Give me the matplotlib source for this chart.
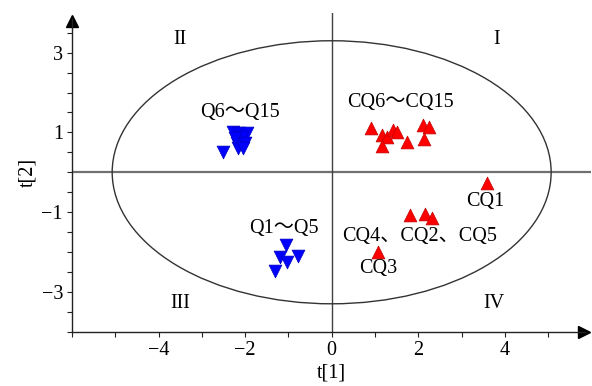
import numpy as np
import matplotlib.pyplot as plt
from matplotlib.patches import Ellipse

# PCA score plot, t[1] vs t[2]
cq_group_x = [0.92, 1.17, 1.27, 1.41, 1.50, 1.17, 1.75, 2.10, 2.25, 2.14]
cq_group_y = [1.10, 0.94, 0.88, 1.06, 1.02, 0.66, 0.77, 1.19, 1.14, 0.84]
cq_single_x = [3.58, 1.81, 2.15, 2.31, 1.08]   # CQ1, CQ4, CQ2, CQ5, CQ3
cq_single_y = [-0.26, -1.07, -1.05, -1.15, -1.99]
q_group_x = [-2.27, -2.13, -1.96, -2.08, -2.18, -2.00, -2.16, -2.50, -2.04, -2.23]
q_group_y = [1.02, 0.99, 0.99, 0.89, 0.73, 0.73, 0.60, 0.52, 0.60, 0.85]
q_low_x = [-1.06, -1.19, -1.03, -0.77, -1.31]
q_low_y = [-1.83, -2.13, -2.24, -2.10, -2.47]

ellipse_w = 5.07
ellipse_h = 3.30

fam = ['Liberation Serif', 'Noto Sans CJK SC']
plt.rcParams['font.family'] = fam

fig = plt.figure(figsize=(5.92, 3.86), dpi=100)
ax = fig.add_axes([0.1215, 0.1407, 0.8775, 0.826])
ax.set_xlim(-6, 6)
ax.set_ylim(-4, 4)

ax.axhline(0, color='#707070', lw=1.6, zorder=1)
ax.axvline(0, color='#404040', lw=1.0, zorder=1)
ax.add_patch(Ellipse((0, 0), 2 * ellipse_w, 2 * ellipse_h, fill=False,
                     edgecolor='#333333', lw=1.0, zorder=1))

ax.scatter(cq_group_x, cq_group_y, marker='^', s=85, color='#ff0000',
           edgecolor='#c00000', linewidth=0.5, zorder=3)
ax.scatter(cq_single_x, cq_single_y, marker='^', s=85, color='#ff0000',
           edgecolor='#c00000', linewidth=0.5, zorder=3)
ax.scatter(q_group_x, q_group_y, marker='v', s=85, color='#0000ff',
           edgecolor='#0000c0', linewidth=0.5, zorder=3)
ax.scatter(q_low_x, q_low_y, marker='v', s=85, color='#0000ff',
           edgecolor='#0000c0', linewidth=0.5, zorder=3)

fs = 14.5
txt = dict(fontsize=fs, ha='center', va='center', family=fam)
ax.text(-2.11, 1.49, 'Q6～Q15', **txt)
ax.text(1.58, 1.74, 'CQ6～CQ15', **txt)
ax.text(-1.10, -1.40, 'Q1～Q5', **txt)
ax.text(3.54, -0.74, 'CQ1', **txt)
ax.text(2.04, -1.62, 'CQ4、CQ2、CQ5', **txt)
ax.text(1.08, -2.42, 'CQ3', **txt)
ax.text(-3.5, 3.32, 'II', **txt)
ax.text(3.8, 3.32, 'I', **txt)
ax.text(-3.5, -3.29, 'III', **txt)
ax.text(3.75, -3.29, 'IV', **txt)

# axes: left and bottom only, with arrow heads
for side in ['top', 'right']:
    ax.spines[side].set_visible(False)
for side in ['left', 'bottom']:
    ax.spines[side].set_color('#222222')
    ax.spines[side].set_linewidth(1.0)
ax.spines['bottom'].set_bounds(-6, 5.85)
ax.spines['left'].set_bounds(-4, 3.85)
ax.plot(0.985, 0, '>', transform=ax.transAxes, color='black', ms=8, clip_on=False)
ax.plot(0, 0.975, '^', transform=ax.transAxes, color='black', ms=8, clip_on=False)

xt = np.arange(-6, 6, 1)
ax.set_xticks(xt)
ax.set_xticklabels(['' if (v % 2 or v == -6) else str(v).replace('-', '\u2212')
                    for v in xt])
yt = np.arange(-4, 4, 0.5)
ax.set_yticks(yt)
ax.set_yticklabels([str(int(v)).replace('-', '\u2212') if v in (3, 1, -1, -3) else ''
                    for v in yt])
ax.tick_params(direction='out', length=3.5, width=0.8, color='#222222',
               labelsize=fs, pad=3)

ax.set_xlabel('t[1]', fontsize=fs, labelpad=3)
ax.set_ylabel('t[2]', fontsize=fs, labelpad=3)

fig.savefig('out.png', dpi=100)
